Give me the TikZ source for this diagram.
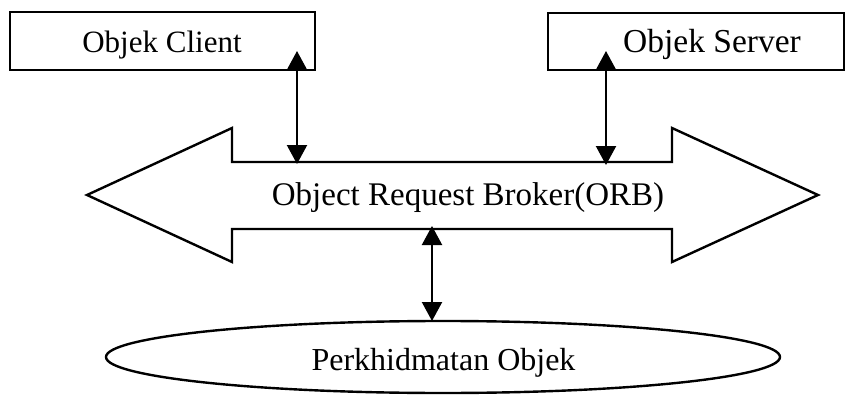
\documentclass[tikz,border=0pt]{standalone}
\usepackage{fontspec}
\setmainfont{Liberation Serif}
\usetikzlibrary{shapes.geometric,arrows.meta}
\tikzset{
  shape line/.style={line width=2.4pt, line join=miter},
  boxnode/.style={draw, shape line, rectangle, inner sep=0pt},
  lbl/.style={anchor=base, inner sep=0pt, font=\fontsize{31}{36}\selectfont},
  link/.style={line width=2.2pt, {Triangle[width=20pt,length=19pt]}-{Triangle[width=20pt,length=19pt]}, shorten <=-1pt, shorten >=-1pt},
}
\begin{document}
\begin{tikzpicture}[x=1pt,y=-1pt]
\useasboundingbox (0,0) rectangle (847,396);
% boxes
\node[boxnode, minimum width=305pt, minimum height=58pt] (client) at (162.5,41) {};
\node[boxnode, minimum width=296pt, minimum height=57pt] (server) at (696,41.5) {};
\node[lbl] (clienttext) at (162,53) {Objek Client};
\node[lbl, font=\fontsize{33.5}{39}\selectfont] (servertext) at (712,53) {Objek Server};
% ORB double arrow
\draw[shape line] (87,195) -- (232,128) -- (232,162) -- (672,162) -- (672,128)
  -- (818,195) -- (672,262) -- (672,229) -- (232,229) -- (232,262) -- cycle;
\node[lbl, font=\fontsize{33}{38}\selectfont] (orb) at (468,205) {Object Request Broker(ORB)};
% service ellipse
\node[ellipse, draw, shape line, minimum width=674pt, minimum height=72pt, inner sep=0pt] (svc) at (443,357) {};
\node[lbl, font=\fontsize{32}{37}\selectfont] (svctext) at (443.5,370) {Perkhidmatan Objek};
% connector coordinates
\coordinate (c1) at (297,52);
\coordinate (c2) at (297,163);
\coordinate (s1) at (606,52);
\coordinate (s2) at (606,164);
\coordinate (b1) at (432,227);
\coordinate (b2) at (432,320);
\draw[link] (c2) -- (c1);
\draw[link] (s2) -- (s1);
\draw[link] (b2) -- (b1);
\end{tikzpicture}
\end{document}
